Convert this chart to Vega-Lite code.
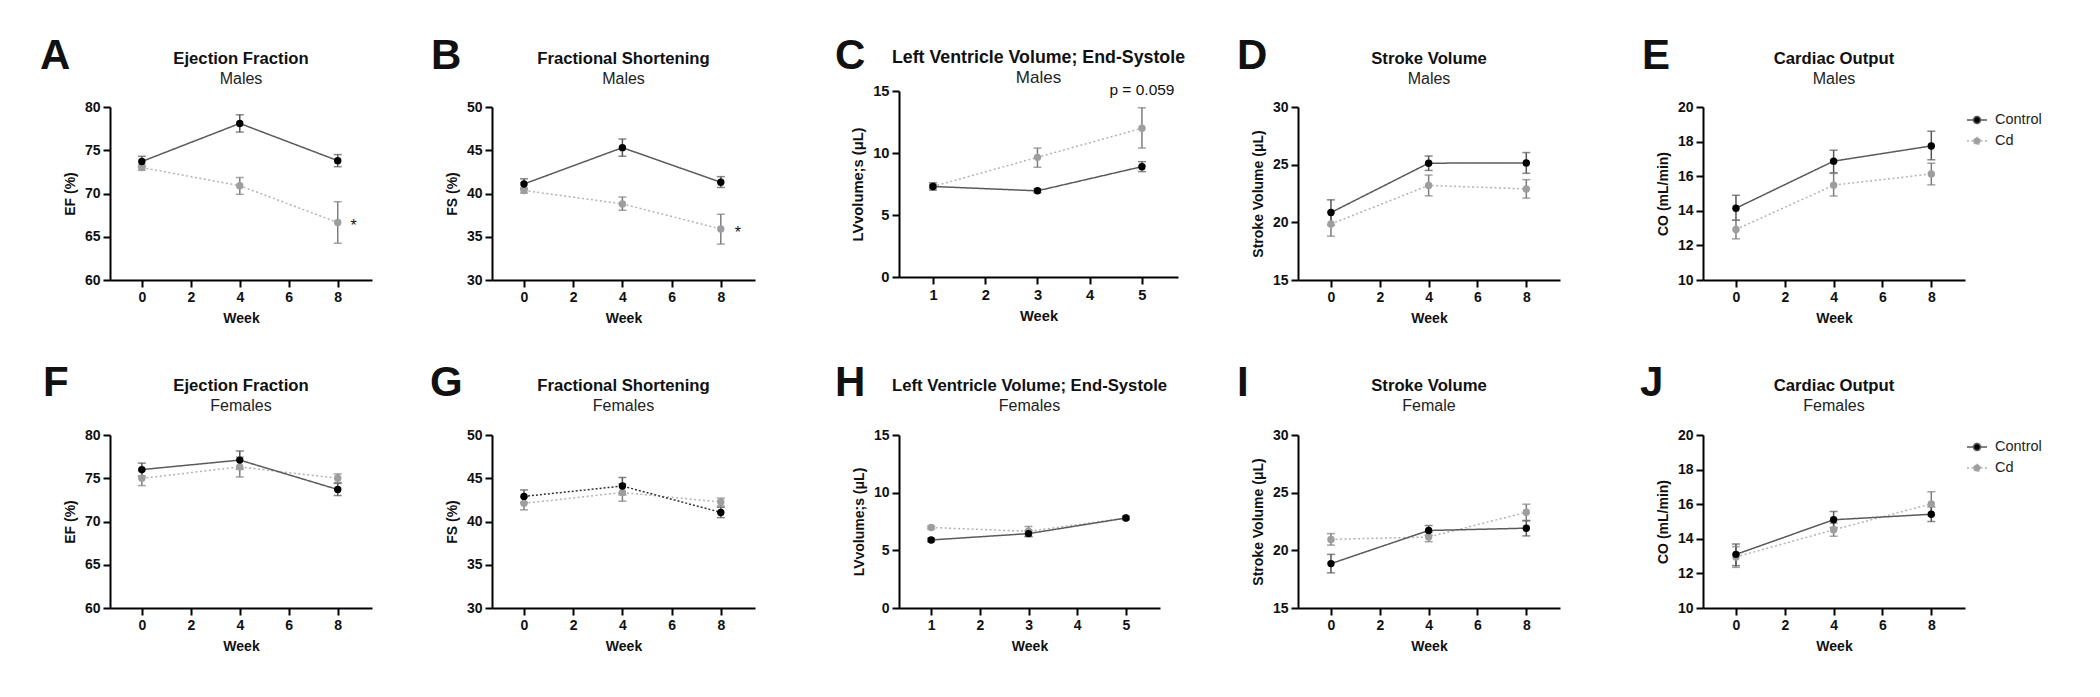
{
  "$schema": "https://vega.github.io/schema/vega-lite/v6.json",
  "background": "white",
  "padding": {"left": 40, "top": 35, "right": 5, "bottom": 5},
  "config": {
    "view": {"stroke": null},
    "font": "Liberation Sans",
    "axis": {"domainColor": "#000", "domainWidth": 2, "tickColor": "#000", "tickWidth": 2, "tickSize": 7, "labelFont": "Liberation Sans", "labelFontSize": 14, "labelFontWeight": "bold", "labelColor": "#111", "titleFont": "Liberation Sans", "titleFontSize": 14, "titleFontWeight": "bold", "titleColor": "#111", "grid": false, "labelPadding": 3, "labelFlush": false, "labelOverlap": false},
    "axisX": {"titlePadding": 7},
    "axisY": {"titlePadding": 7},
    "title": {"font": "Liberation Sans", "fontSize": 16.7, "fontWeight": "bold", "color": "#111", "subtitleFont": "Liberation Sans", "subtitleFontSize": 16, "subtitleColor": "#222", "subtitlePadding": 3, "anchor": "middle", "frame": "group"}
  },
  "resolve": {
    "scale": {"color": "independent", "fill": "independent", "stroke": "independent", "strokeDash": "independent"},
    "legend": {"color": "independent", "fill": "independent", "stroke": "independent", "strokeDash": "independent"}
  },
  "datasets": {
    "echo": [
      {"p": "A", "g": "Cd", "week": 0, "mean": 73.0, "lo": 72.7, "hi": 73.3},
      {"p": "A", "g": "Cd", "week": 4, "mean": 70.9, "lo": 69.9, "hi": 71.85},
      {"p": "A", "g": "Cd", "week": 8, "mean": 66.65, "lo": 64.25, "hi": 69.05},
      {"p": "A", "g": "Control", "week": 0, "mean": 73.7, "lo": 73.1, "hi": 74.3},
      {"p": "A", "g": "Control", "week": 4, "mean": 78.1, "lo": 77.1, "hi": 79.1},
      {"p": "A", "g": "Control", "week": 8, "mean": 73.8, "lo": 73.1, "hi": 74.5},
      {"p": "B", "g": "Cd", "week": 0, "mean": 40.35, "lo": 40.05, "hi": 40.65},
      {"p": "B", "g": "Cd", "week": 4, "mean": 38.8, "lo": 38.05, "hi": 39.6},
      {"p": "B", "g": "Cd", "week": 8, "mean": 35.9, "lo": 34.15, "hi": 37.6},
      {"p": "B", "g": "Control", "week": 0, "mean": 41.1, "lo": 40.5, "hi": 41.7},
      {"p": "B", "g": "Control", "week": 4, "mean": 45.3, "lo": 44.3, "hi": 46.3},
      {"p": "B", "g": "Control", "week": 8, "mean": 41.3, "lo": 40.7, "hi": 41.95},
      {"p": "C", "g": "Cd", "week": 1, "mean": 7.3, "lo": 7.15, "hi": 7.45},
      {"p": "C", "g": "Cd", "week": 3, "mean": 9.65, "lo": 8.85, "hi": 10.4},
      {"p": "C", "g": "Cd", "week": 5, "mean": 12.0, "lo": 10.4, "hi": 13.65},
      {"p": "C", "g": "Control", "week": 1, "mean": 7.3, "lo": 7.0, "hi": 7.6},
      {"p": "C", "g": "Control", "week": 3, "mean": 6.95, "lo": 6.8, "hi": 7.1},
      {"p": "C", "g": "Control", "week": 5, "mean": 8.9, "lo": 8.5, "hi": 9.3},
      {"p": "D", "g": "Cd", "week": 0, "mean": 19.85, "lo": 18.8, "hi": 20.9},
      {"p": "D", "g": "Cd", "week": 4, "mean": 23.2, "lo": 22.3, "hi": 24.1},
      {"p": "D", "g": "Cd", "week": 8, "mean": 22.9, "lo": 22.1, "hi": 23.7},
      {"p": "D", "g": "Control", "week": 0, "mean": 20.85, "lo": 19.75, "hi": 21.95},
      {"p": "D", "g": "Control", "week": 4, "mean": 25.13, "lo": 24.5, "hi": 25.75},
      {"p": "D", "g": "Control", "week": 8, "mean": 25.15, "lo": 24.25, "hi": 26.05},
      {"p": "E", "g": "Cd", "week": 0, "mean": 12.92, "lo": 12.38, "hi": 13.46},
      {"p": "E", "g": "Cd", "week": 4, "mean": 15.48, "lo": 14.85, "hi": 16.15},
      {"p": "E", "g": "Cd", "week": 8, "mean": 16.13, "lo": 15.5, "hi": 16.75},
      {"p": "E", "g": "Control", "week": 0, "mean": 14.15, "lo": 13.45, "hi": 14.9},
      {"p": "E", "g": "Control", "week": 4, "mean": 16.87, "lo": 16.2, "hi": 17.5},
      {"p": "E", "g": "Control", "week": 8, "mean": 17.75, "lo": 16.95, "hi": 18.6},
      {"p": "F", "g": "Cd", "week": 0, "mean": 75.0, "lo": 74.15, "hi": 75.85},
      {"p": "F", "g": "Cd", "week": 4, "mean": 76.3, "lo": 75.15, "hi": 77.45},
      {"p": "F", "g": "Cd", "week": 8, "mean": 75.0, "lo": 74.5, "hi": 75.5},
      {"p": "F", "g": "Control", "week": 0, "mean": 76.0, "lo": 75.25, "hi": 76.75},
      {"p": "F", "g": "Control", "week": 4, "mean": 77.1, "lo": 76.05, "hi": 78.15},
      {"p": "F", "g": "Control", "week": 8, "mean": 73.7, "lo": 73.0, "hi": 74.4},
      {"p": "G", "g": "Cd", "week": 0, "mean": 42.1, "lo": 41.35, "hi": 42.85},
      {"p": "G", "g": "Cd", "week": 4, "mean": 43.35, "lo": 42.35, "hi": 44.35},
      {"p": "G", "g": "Cd", "week": 8, "mean": 42.25, "lo": 41.8, "hi": 42.7},
      {"p": "G", "g": "Control", "week": 0, "mean": 42.9, "lo": 42.2, "hi": 43.65},
      {"p": "G", "g": "Control", "week": 4, "mean": 44.1, "lo": 43.1, "hi": 45.1},
      {"p": "G", "g": "Control", "week": 8, "mean": 41.05, "lo": 40.45, "hi": 41.65},
      {"p": "H", "g": "Cd", "week": 1, "mean": 6.98, "lo": 6.85, "hi": 7.1},
      {"p": "H", "g": "Cd", "week": 3, "mean": 6.65, "lo": 6.2, "hi": 7.07},
      {"p": "H", "g": "Cd", "week": 5, "mean": 7.8, "lo": 7.7, "hi": 7.9},
      {"p": "H", "g": "Control", "week": 1, "mean": 5.9, "lo": 5.75, "hi": 6.05},
      {"p": "H", "g": "Control", "week": 3, "mean": 6.45, "lo": 6.2, "hi": 6.7},
      {"p": "H", "g": "Control", "week": 5, "mean": 7.8, "lo": 7.65, "hi": 7.95},
      {"p": "I", "g": "Cd", "week": 0, "mean": 20.95, "lo": 20.45, "hi": 21.45},
      {"p": "I", "g": "Cd", "week": 4, "mean": 21.15, "lo": 20.75, "hi": 21.55},
      {"p": "I", "g": "Cd", "week": 8, "mean": 23.3, "lo": 22.6, "hi": 24.0},
      {"p": "I", "g": "Control", "week": 0, "mean": 18.85, "lo": 18.05, "hi": 19.65},
      {"p": "I", "g": "Control", "week": 4, "mean": 21.72, "lo": 21.3, "hi": 22.15},
      {"p": "I", "g": "Control", "week": 8, "mean": 21.92, "lo": 21.25, "hi": 22.55},
      {"p": "J", "g": "Cd", "week": 0, "mean": 12.95, "lo": 12.35, "hi": 13.55},
      {"p": "J", "g": "Cd", "week": 4, "mean": 14.52, "lo": 14.15, "hi": 14.9},
      {"p": "J", "g": "Cd", "week": 8, "mean": 16.02, "lo": 15.35, "hi": 16.72},
      {"p": "J", "g": "Control", "week": 0, "mean": 13.1, "lo": 12.45, "hi": 13.7},
      {"p": "J", "g": "Control", "week": 4, "mean": 15.1, "lo": 14.65, "hi": 15.58},
      {"p": "J", "g": "Control", "week": 8, "mean": 15.42, "lo": 15.0, "hi": 15.85}
    ],
    "notes": [
      {"p": "A", "week": 8, "val": 66.65, "label": "*"},
      {"p": "B", "week": 8, "val": 35.9, "label": "*"},
      {"p": "C", "week": 5, "val": 15, "label": "p = 0.059"}
    ]
  },
  "columns": 10,
  "spacing": {"row": 155, "column": 0},
  "bounds": "flush",
  "align": "each",
  "concat": [
    {"width": 70, "height": 10, "data": {"values": []}, "mark": "point", "title": {"text": "A", "fontSize": 42, "anchor": "start", "dx": 0, "offset": 13}},
    {
      "width": 262, "height": 189,
      "title": {"text": "Ejection Fraction", "subtitle": "Males", "offset": 4},
      "data": {"name": "echo"},
      "transform": [{"filter": "datum.p === 'A'"}],
      "encoding": {
        "x": {"field": "week", "type": "quantitative", "title": "Week", "scale": {"domain": [-1.3, 9.4], "nice": false, "zero": false}, "axis": {"values": [0, 2, 4, 6, 8]}},
        "y": {"field": "mean", "type": "quantitative", "title": "EF (%)", "scale": {"domain": [60, 80], "range": [189, 16], "nice": false, "zero": false}, "axis": {"values": [60, 65, 70, 75, 80]}}
      },
      "layer": [
        {"mark": {"type": "rule", "strokeWidth": 1.5}, "encoding": {"y": {"field": "lo", "type": "quantitative", "title": "EF (%)"}, "y2": {"field": "hi"}, "color": {"field": "g", "type": "nominal", "scale": {"domain": ["Control", "Cd"], "range": ["#555555", "#7d7d7d"]}, "legend": null}}},
        {"mark": {"type": "tick", "orient": "horizontal", "size": 8, "thickness": 1.5}, "encoding": {"y": {"field": "lo", "type": "quantitative", "title": "EF (%)"}, "color": {"field": "g", "type": "nominal", "legend": null}}},
        {"mark": {"type": "tick", "orient": "horizontal", "size": 8, "thickness": 1.5}, "encoding": {"y": {"field": "hi", "type": "quantitative", "title": "EF (%)"}, "color": {"field": "g", "type": "nominal", "legend": null}}},
        {"mark": {"type": "line", "strokeWidth": 1.5}, "encoding": {"stroke": {"field": "g", "type": "nominal", "scale": {"domain": ["Control", "Cd"], "range": ["#5a5a5a", "#b3b3b3"]}, "legend": null}, "strokeDash": {"field": "g", "type": "nominal", "scale": {"domain": ["Control", "Cd"], "range": [[1, 0], [2, 2.5]]}, "legend": null}}},
        {"mark": {"type": "circle", "size": 55, "opacity": 1}, "encoding": {"fill": {"field": "g", "type": "nominal", "scale": {"domain": ["Control", "Cd"], "range": ["#000000", "#9e9e9e"]}, "legend": null}}},
        {"data": {"name": "notes"}, "transform": [{"filter": "datum.p === 'A'"}], "mark": {"type": "text", "fontSize": 16, "dx": 16, "dy": 4, "color": "#111"}, "encoding": {"y": {"field": "val", "type": "quantitative", "title": "EF (%)"}, "text": {"field": "label"}}}
      ]
    },
    {"width": 120, "height": 10, "data": {"values": []}, "mark": "point", "title": {"text": "B", "fontSize": 42, "anchor": "start", "dx": 59, "offset": 13}},
    {
      "width": 263, "height": 189,
      "title": {"text": "Fractional Shortening", "subtitle": "Males", "offset": 4},
      "data": {"name": "echo"},
      "transform": [{"filter": "datum.p === 'B'"}],
      "encoding": {
        "x": {"field": "week", "type": "quantitative", "title": "Week", "scale": {"domain": [-1.3, 9.39], "nice": false, "zero": false}, "axis": {"values": [0, 2, 4, 6, 8]}},
        "y": {"field": "mean", "type": "quantitative", "title": "FS (%)", "scale": {"domain": [30, 50], "range": [189, 16], "nice": false, "zero": false}, "axis": {"values": [30, 35, 40, 45, 50]}}
      },
      "layer": [
        {"mark": {"type": "rule", "strokeWidth": 1.5}, "encoding": {"y": {"field": "lo", "type": "quantitative", "title": "FS (%)"}, "y2": {"field": "hi"}, "color": {"field": "g", "type": "nominal", "scale": {"domain": ["Control", "Cd"], "range": ["#555555", "#7d7d7d"]}, "legend": null}}},
        {"mark": {"type": "tick", "orient": "horizontal", "size": 8, "thickness": 1.5}, "encoding": {"y": {"field": "lo", "type": "quantitative", "title": "FS (%)"}, "color": {"field": "g", "type": "nominal", "legend": null}}},
        {"mark": {"type": "tick", "orient": "horizontal", "size": 8, "thickness": 1.5}, "encoding": {"y": {"field": "hi", "type": "quantitative", "title": "FS (%)"}, "color": {"field": "g", "type": "nominal", "legend": null}}},
        {"mark": {"type": "line", "strokeWidth": 1.5}, "encoding": {"stroke": {"field": "g", "type": "nominal", "scale": {"domain": ["Control", "Cd"], "range": ["#5a5a5a", "#b3b3b3"]}, "legend": null}, "strokeDash": {"field": "g", "type": "nominal", "scale": {"domain": ["Control", "Cd"], "range": [[1, 0], [2, 2.5]]}, "legend": null}}},
        {"mark": {"type": "circle", "size": 55, "opacity": 1}, "encoding": {"fill": {"field": "g", "type": "nominal", "scale": {"domain": ["Control", "Cd"], "range": ["#000000", "#9e9e9e"]}, "legend": null}}},
        {"data": {"name": "notes"}, "transform": [{"filter": "datum.p === 'B'"}], "mark": {"type": "text", "fontSize": 16, "dx": 17, "dy": 4, "color": "#111"}, "encoding": {"y": {"field": "val", "type": "quantitative", "title": "FS (%)"}, "text": {"field": "label"}}}
      ]
    },
    {"width": 144, "height": 10, "data": {"values": []}, "mark": "point", "title": {"text": "C", "fontSize": 42, "anchor": "start", "dx": 80, "offset": 13}},
    {
      "width": 279, "height": 186,
      "title": {"text": "Left Ventricle Volume; End-Systole", "subtitle": "Males", "offset": -3, "fontSize": 17.8, "subtitleFontSize": 17},
      "data": {"name": "echo"},
      "transform": [{"filter": "datum.p === 'C'"}],
      "encoding": {
        "x": {"field": "week", "type": "quantitative", "title": "Week", "scale": {"domain": [0.35, 5.69], "nice": false, "zero": false}, "axis": {"values": [1, 2, 3, 4, 5], "labelFontSize": 14.7, "titleFontSize": 14.7}},
        "y": {"field": "mean", "type": "quantitative", "title": "LVvolume;s (μL)", "scale": {"domain": [0, 15], "nice": false, "zero": false}, "axis": {"values": [0, 5, 10, 15], "labelFontSize": 14.7, "titleFontSize": 14.7}}
      },
      "layer": [
        {"mark": {"type": "rule", "strokeWidth": 1.5}, "encoding": {"y": {"field": "lo", "type": "quantitative", "title": "LVvolume;s (μL)"}, "y2": {"field": "hi"}, "color": {"field": "g", "type": "nominal", "scale": {"domain": ["Control", "Cd"], "range": ["#555555", "#7d7d7d"]}, "legend": null}}},
        {"mark": {"type": "tick", "orient": "horizontal", "size": 8, "thickness": 1.5}, "encoding": {"y": {"field": "lo", "type": "quantitative", "title": "LVvolume;s (μL)"}, "color": {"field": "g", "type": "nominal", "legend": null}}},
        {"mark": {"type": "tick", "orient": "horizontal", "size": 8, "thickness": 1.5}, "encoding": {"y": {"field": "hi", "type": "quantitative", "title": "LVvolume;s (μL)"}, "color": {"field": "g", "type": "nominal", "legend": null}}},
        {"mark": {"type": "line", "strokeWidth": 1.5}, "encoding": {"stroke": {"field": "g", "type": "nominal", "scale": {"domain": ["Control", "Cd"], "range": ["#5a5a5a", "#b3b3b3"]}, "legend": null}, "strokeDash": {"field": "g", "type": "nominal", "scale": {"domain": ["Control", "Cd"], "range": [[1, 0], [2, 2.5]]}, "legend": null}}},
        {"mark": {"type": "circle", "size": 55, "opacity": 1}, "encoding": {"fill": {"field": "g", "type": "nominal", "scale": {"domain": ["Control", "Cd"], "range": ["#000000", "#9e9e9e"]}, "legend": null}}},
        {"data": {"name": "notes"}, "transform": [{"filter": "datum.p === 'C'"}], "mark": {"type": "text", "fontSize": 15.5, "baseline": "middle", "dy": -1, "color": "#111"}, "encoding": {"y": {"field": "val", "type": "quantitative", "title": "LVvolume;s (μL)"}, "text": {"field": "label"}}}
      ]
    },
    {"width": 120, "height": 10, "data": {"values": []}, "mark": "point", "title": {"text": "D", "fontSize": 42, "anchor": "start", "dx": 59, "offset": 13}},
    {
      "width": 262, "height": 189,
      "title": {"text": "Stroke Volume", "subtitle": "Males", "offset": 4},
      "data": {"name": "echo"},
      "transform": [{"filter": "datum.p === 'D'"}],
      "encoding": {
        "x": {"field": "week", "type": "quantitative", "title": "Week", "scale": {"domain": [-1.35, 9.38], "nice": false, "zero": false}, "axis": {"values": [0, 2, 4, 6, 8]}},
        "y": {"field": "mean", "type": "quantitative", "title": "Stroke Volume (μL)", "scale": {"domain": [15, 30], "range": [189, 16], "nice": false, "zero": false}, "axis": {"values": [15, 20, 25, 30]}}
      },
      "layer": [
        {"mark": {"type": "rule", "strokeWidth": 1.5}, "encoding": {"y": {"field": "lo", "type": "quantitative", "title": "Stroke Volume (μL)"}, "y2": {"field": "hi"}, "color": {"field": "g", "type": "nominal", "scale": {"domain": ["Control", "Cd"], "range": ["#555555", "#7d7d7d"]}, "legend": null}}},
        {"mark": {"type": "tick", "orient": "horizontal", "size": 8, "thickness": 1.5}, "encoding": {"y": {"field": "lo", "type": "quantitative", "title": "Stroke Volume (μL)"}, "color": {"field": "g", "type": "nominal", "legend": null}}},
        {"mark": {"type": "tick", "orient": "horizontal", "size": 8, "thickness": 1.5}, "encoding": {"y": {"field": "hi", "type": "quantitative", "title": "Stroke Volume (μL)"}, "color": {"field": "g", "type": "nominal", "legend": null}}},
        {"mark": {"type": "line", "strokeWidth": 1.5}, "encoding": {"stroke": {"field": "g", "type": "nominal", "scale": {"domain": ["Control", "Cd"], "range": ["#5a5a5a", "#b3b3b3"]}, "legend": null}, "strokeDash": {"field": "g", "type": "nominal", "scale": {"domain": ["Control", "Cd"], "range": [[1, 0], [2, 2.5]]}, "legend": null}}},
        {"mark": {"type": "circle", "size": 55, "opacity": 1}, "encoding": {"fill": {"field": "g", "type": "nominal", "scale": {"domain": ["Control", "Cd"], "range": ["#000000", "#9e9e9e"]}, "legend": null}}}
      ]
    },
    {"width": 143, "height": 10, "data": {"values": []}, "mark": "point", "title": {"text": "E", "fontSize": 42, "anchor": "start", "dx": 82, "offset": 13}},
    {
      "width": 262, "height": 189,
      "title": {"text": "Cardiac Output", "subtitle": "Males", "offset": 4},
      "data": {"name": "echo"},
      "transform": [{"filter": "datum.p === 'E'"}],
      "encoding": {
        "x": {"field": "week", "type": "quantitative", "title": "Week", "scale": {"domain": [-1.35, 9.38], "nice": false, "zero": false}, "axis": {"values": [0, 2, 4, 6, 8]}},
        "y": {"field": "mean", "type": "quantitative", "title": "CO (mL/min)", "scale": {"domain": [10, 20], "range": [189, 16], "nice": false, "zero": false}, "axis": {"values": [10, 12, 14, 16, 18, 20]}}
      },
      "layer": [
        {"mark": {"type": "rule", "strokeWidth": 1.5}, "encoding": {"y": {"field": "lo", "type": "quantitative", "title": "CO (mL/min)"}, "y2": {"field": "hi"}, "color": {"field": "g", "type": "nominal", "scale": {"domain": ["Cd", "Control"], "range": ["#7d7d7d", "#555555"]}, "legend": null}}},
        {"mark": {"type": "tick", "orient": "horizontal", "size": 8, "thickness": 1.5}, "encoding": {"y": {"field": "lo", "type": "quantitative", "title": "CO (mL/min)"}, "color": {"field": "g", "type": "nominal", "legend": null}}},
        {"mark": {"type": "tick", "orient": "horizontal", "size": 8, "thickness": 1.5}, "encoding": {"y": {"field": "hi", "type": "quantitative", "title": "CO (mL/min)"}, "color": {"field": "g", "type": "nominal", "legend": null}}},
        {"mark": {"type": "line", "strokeWidth": 1.5}, "encoding": {"stroke": {"field": "g", "type": "nominal", "scale": {"domain": ["Control", "Cd"], "range": ["#5a5a5a", "#b3b3b3"]}, "legend": {"title": null, "orient": "right", "offset": -17, "padding": 18, "symbolType": "M-1,0L-0.35,0M0.35,0L1,0M-0.35,0A0.35,0.35,0,1,1,0.35,0A0.35,0.35,0,1,1,-0.35,0Z", "symbolSize": 400, "symbolStrokeWidth": 1.5, "labelFontSize": 14.5, "labelFont": "Liberation Sans", "labelColor": "#222", "labelOffset": 7, "rowPadding": 3}}, "strokeDash": {"field": "g", "type": "nominal", "scale": {"domain": ["Control", "Cd"], "range": [[1, 0], [2, 2.5]]}, "legend": {"title": null, "orient": "right", "offset": -17, "padding": 18, "symbolType": "M-1,0L-0.35,0M0.35,0L1,0M-0.35,0A0.35,0.35,0,1,1,0.35,0A0.35,0.35,0,1,1,-0.35,0Z", "symbolSize": 400, "symbolStrokeWidth": 1.5, "labelFontSize": 14.5, "labelFont": "Liberation Sans", "labelColor": "#222", "labelOffset": 7, "rowPadding": 3}}}},
        {"mark": {"type": "circle", "size": 55, "opacity": 1}, "encoding": {"fill": {"field": "g", "type": "nominal", "scale": {"domain": ["Control", "Cd"], "range": ["#000000", "#9e9e9e"]}, "legend": {"title": null, "orient": "right", "offset": -17, "padding": 18, "symbolType": "M-1,0L-0.35,0M0.35,0L1,0M-0.35,0A0.35,0.35,0,1,1,0.35,0A0.35,0.35,0,1,1,-0.35,0Z", "symbolSize": 400, "symbolStrokeWidth": 1.5, "labelFontSize": 14.5, "labelFont": "Liberation Sans", "labelColor": "#222", "labelOffset": 7, "rowPadding": 3}}}}
      ]
    },
    {"width": 70, "height": 10, "data": {"values": []}, "mark": "point", "title": {"text": "F", "fontSize": 42, "anchor": "start", "dx": 3, "offset": 30}},
    {
      "width": 262, "height": 173,
      "title": {"text": "Ejection Fraction", "subtitle": "Females", "offset": 14},
      "data": {"name": "echo"},
      "transform": [{"filter": "datum.p === 'F'"}],
      "encoding": {
        "x": {"field": "week", "type": "quantitative", "title": "Week", "scale": {"domain": [-1.3, 9.4], "nice": false, "zero": false}, "axis": {"values": [0, 2, 4, 6, 8]}},
        "y": {"field": "mean", "type": "quantitative", "title": "EF (%)", "scale": {"domain": [60, 80], "nice": false, "zero": false}, "axis": {"values": [60, 65, 70, 75, 80]}}
      },
      "layer": [
        {"mark": {"type": "rule", "strokeWidth": 1.5}, "encoding": {"y": {"field": "lo", "type": "quantitative", "title": "EF (%)"}, "y2": {"field": "hi"}, "color": {"field": "g", "type": "nominal", "scale": {"domain": ["Control", "Cd"], "range": ["#555555", "#7d7d7d"]}, "legend": null}}},
        {"mark": {"type": "tick", "orient": "horizontal", "size": 8, "thickness": 1.5}, "encoding": {"y": {"field": "lo", "type": "quantitative", "title": "EF (%)"}, "color": {"field": "g", "type": "nominal", "legend": null}}},
        {"mark": {"type": "tick", "orient": "horizontal", "size": 8, "thickness": 1.5}, "encoding": {"y": {"field": "hi", "type": "quantitative", "title": "EF (%)"}, "color": {"field": "g", "type": "nominal", "legend": null}}},
        {"mark": {"type": "line", "strokeWidth": 1.5}, "encoding": {"stroke": {"field": "g", "type": "nominal", "scale": {"domain": ["Control", "Cd"], "range": ["#5a5a5a", "#b3b3b3"]}, "legend": null}, "strokeDash": {"field": "g", "type": "nominal", "scale": {"domain": ["Control", "Cd"], "range": [[1, 0], [2, 2.5]]}, "legend": null}}},
        {"mark": {"type": "circle", "size": 55, "opacity": 1}, "encoding": {"fill": {"field": "g", "type": "nominal", "scale": {"domain": ["Control", "Cd"], "range": ["#000000", "#9e9e9e"]}, "legend": null}}}
      ]
    },
    {"width": 120, "height": 10, "data": {"values": []}, "mark": "point", "title": {"text": "G", "fontSize": 42, "anchor": "start", "dx": 58, "offset": 30}},
    {
      "width": 263, "height": 173,
      "title": {"text": "Fractional Shortening", "subtitle": "Females", "offset": 14},
      "data": {"name": "echo"},
      "transform": [{"filter": "datum.p === 'G'"}],
      "encoding": {
        "x": {"field": "week", "type": "quantitative", "title": "Week", "scale": {"domain": [-1.3, 9.39], "nice": false, "zero": false}, "axis": {"values": [0, 2, 4, 6, 8]}},
        "y": {"field": "mean", "type": "quantitative", "title": "FS (%)", "scale": {"domain": [30, 50], "nice": false, "zero": false}, "axis": {"values": [30, 35, 40, 45, 50]}}
      },
      "layer": [
        {"mark": {"type": "rule", "strokeWidth": 1.5}, "encoding": {"y": {"field": "lo", "type": "quantitative", "title": "FS (%)"}, "y2": {"field": "hi"}, "color": {"field": "g", "type": "nominal", "scale": {"domain": ["Control", "Cd"], "range": ["#555555", "#7d7d7d"]}, "legend": null}}},
        {"mark": {"type": "tick", "orient": "horizontal", "size": 8, "thickness": 1.5}, "encoding": {"y": {"field": "lo", "type": "quantitative", "title": "FS (%)"}, "color": {"field": "g", "type": "nominal", "legend": null}}},
        {"mark": {"type": "tick", "orient": "horizontal", "size": 8, "thickness": 1.5}, "encoding": {"y": {"field": "hi", "type": "quantitative", "title": "FS (%)"}, "color": {"field": "g", "type": "nominal", "legend": null}}},
        {"mark": {"type": "line", "strokeWidth": 1.5}, "encoding": {"stroke": {"field": "g", "type": "nominal", "scale": {"domain": ["Control", "Cd"], "range": ["#333333", "#b3b3b3"]}, "legend": null}, "strokeDash": {"field": "g", "type": "nominal", "scale": {"domain": ["Control", "Cd"], "range": [[2, 2], [2, 2.5]]}, "legend": null}}},
        {"mark": {"type": "circle", "size": 55, "opacity": 1}, "encoding": {"fill": {"field": "g", "type": "nominal", "scale": {"domain": ["Control", "Cd"], "range": ["#000000", "#9e9e9e"]}, "legend": null}}}
      ]
    },
    {"width": 144, "height": 10, "data": {"values": []}, "mark": "point", "title": {"text": "H", "fontSize": 42, "anchor": "start", "dx": 80, "offset": 30}},
    {
      "width": 261, "height": 173,
      "title": {"text": "Left Ventricle Volume; End-Systole", "subtitle": "Females", "offset": 14},
      "data": {"name": "echo"},
      "transform": [{"filter": "datum.p === 'H'"}],
      "encoding": {
        "x": {"field": "week", "type": "quantitative", "title": "Week", "scale": {"domain": [0.34, 5.7], "nice": false, "zero": false}, "axis": {"values": [1, 2, 3, 4, 5]}},
        "y": {"field": "mean", "type": "quantitative", "title": "LVvolume;s (μL)", "scale": {"domain": [0, 15], "nice": false, "zero": false}, "axis": {"values": [0, 5, 10, 15]}}
      },
      "layer": [
        {"mark": {"type": "rule", "strokeWidth": 1.5}, "encoding": {"y": {"field": "lo", "type": "quantitative", "title": "LVvolume;s (μL)"}, "y2": {"field": "hi"}, "color": {"field": "g", "type": "nominal", "scale": {"domain": ["Control", "Cd"], "range": ["#555555", "#7d7d7d"]}, "legend": null}}},
        {"mark": {"type": "tick", "orient": "horizontal", "size": 8, "thickness": 1.5}, "encoding": {"y": {"field": "lo", "type": "quantitative", "title": "LVvolume;s (μL)"}, "color": {"field": "g", "type": "nominal", "legend": null}}},
        {"mark": {"type": "tick", "orient": "horizontal", "size": 8, "thickness": 1.5}, "encoding": {"y": {"field": "hi", "type": "quantitative", "title": "LVvolume;s (μL)"}, "color": {"field": "g", "type": "nominal", "legend": null}}},
        {"mark": {"type": "line", "strokeWidth": 1.5}, "encoding": {"stroke": {"field": "g", "type": "nominal", "scale": {"domain": ["Control", "Cd"], "range": ["#5a5a5a", "#b3b3b3"]}, "legend": null}, "strokeDash": {"field": "g", "type": "nominal", "scale": {"domain": ["Control", "Cd"], "range": [[1, 0], [2, 2.5]]}, "legend": null}}},
        {"mark": {"type": "circle", "size": 55, "opacity": 1}, "encoding": {"fill": {"field": "g", "type": "nominal", "scale": {"domain": ["Control", "Cd"], "range": ["#000000", "#9e9e9e"]}, "legend": null}}}
      ]
    },
    {"width": 120, "height": 10, "data": {"values": []}, "mark": "point", "title": {"text": "I", "fontSize": 42, "anchor": "start", "dx": 59, "offset": 30}},
    {
      "width": 262, "height": 173,
      "title": {"text": "Stroke Volume", "subtitle": "Female", "offset": 14},
      "data": {"name": "echo"},
      "transform": [{"filter": "datum.p === 'I'"}],
      "encoding": {
        "x": {"field": "week", "type": "quantitative", "title": "Week", "scale": {"domain": [-1.35, 9.38], "nice": false, "zero": false}, "axis": {"values": [0, 2, 4, 6, 8]}},
        "y": {"field": "mean", "type": "quantitative", "title": "Stroke Volume (μL)", "scale": {"domain": [15, 30], "nice": false, "zero": false}, "axis": {"values": [15, 20, 25, 30]}}
      },
      "layer": [
        {"mark": {"type": "rule", "strokeWidth": 1.5}, "encoding": {"y": {"field": "lo", "type": "quantitative", "title": "Stroke Volume (μL)"}, "y2": {"field": "hi"}, "color": {"field": "g", "type": "nominal", "scale": {"domain": ["Control", "Cd"], "range": ["#555555", "#7d7d7d"]}, "legend": null}}},
        {"mark": {"type": "tick", "orient": "horizontal", "size": 8, "thickness": 1.5}, "encoding": {"y": {"field": "lo", "type": "quantitative", "title": "Stroke Volume (μL)"}, "color": {"field": "g", "type": "nominal", "legend": null}}},
        {"mark": {"type": "tick", "orient": "horizontal", "size": 8, "thickness": 1.5}, "encoding": {"y": {"field": "hi", "type": "quantitative", "title": "Stroke Volume (μL)"}, "color": {"field": "g", "type": "nominal", "legend": null}}},
        {"mark": {"type": "line", "strokeWidth": 1.5}, "encoding": {"stroke": {"field": "g", "type": "nominal", "scale": {"domain": ["Control", "Cd"], "range": ["#5a5a5a", "#b3b3b3"]}, "legend": null}, "strokeDash": {"field": "g", "type": "nominal", "scale": {"domain": ["Control", "Cd"], "range": [[1, 0], [2, 2.5]]}, "legend": null}}},
        {"mark": {"type": "circle", "size": 55, "opacity": 1}, "encoding": {"fill": {"field": "g", "type": "nominal", "scale": {"domain": ["Control", "Cd"], "range": ["#000000", "#9e9e9e"]}, "legend": null}}}
      ]
    },
    {"width": 143, "height": 10, "data": {"values": []}, "mark": "point", "title": {"text": "J", "fontSize": 42, "anchor": "start", "dx": 80, "offset": 30}},
    {
      "width": 262, "height": 173,
      "title": {"text": "Cardiac Output", "subtitle": "Females", "offset": 14},
      "data": {"name": "echo"},
      "transform": [{"filter": "datum.p === 'J'"}],
      "encoding": {
        "x": {"field": "week", "type": "quantitative", "title": "Week", "scale": {"domain": [-1.35, 9.38], "nice": false, "zero": false}, "axis": {"values": [0, 2, 4, 6, 8]}},
        "y": {"field": "mean", "type": "quantitative", "title": "CO (mL/min)", "scale": {"domain": [10, 20], "nice": false, "zero": false}, "axis": {"values": [10, 12, 14, 16, 18, 20]}}
      },
      "layer": [
        {"mark": {"type": "rule", "strokeWidth": 1.5}, "encoding": {"y": {"field": "lo", "type": "quantitative", "title": "CO (mL/min)"}, "y2": {"field": "hi"}, "color": {"field": "g", "type": "nominal", "scale": {"domain": ["Cd", "Control"], "range": ["#7d7d7d", "#555555"]}, "legend": null}}},
        {"mark": {"type": "tick", "orient": "horizontal", "size": 8, "thickness": 1.5}, "encoding": {"y": {"field": "lo", "type": "quantitative", "title": "CO (mL/min)"}, "color": {"field": "g", "type": "nominal", "legend": null}}},
        {"mark": {"type": "tick", "orient": "horizontal", "size": 8, "thickness": 1.5}, "encoding": {"y": {"field": "hi", "type": "quantitative", "title": "CO (mL/min)"}, "color": {"field": "g", "type": "nominal", "legend": null}}},
        {"mark": {"type": "line", "strokeWidth": 1.5}, "encoding": {"stroke": {"field": "g", "type": "nominal", "scale": {"domain": ["Control", "Cd"], "range": ["#5a5a5a", "#b3b3b3"]}, "legend": {"title": null, "orient": "right", "offset": 0, "padding": 1, "symbolType": "M-1,0L-0.35,0M0.35,0L1,0M-0.35,0A0.35,0.35,0,1,1,0.35,0A0.35,0.35,0,1,1,-0.35,0Z", "symbolSize": 400, "symbolStrokeWidth": 1.5, "labelFontSize": 14.5, "labelFont": "Liberation Sans", "labelColor": "#222", "labelOffset": 7, "rowPadding": 3}}, "strokeDash": {"field": "g", "type": "nominal", "scale": {"domain": ["Control", "Cd"], "range": [[1, 0], [2, 2.5]]}, "legend": {"title": null, "orient": "right", "offset": 0, "padding": 1, "symbolType": "M-1,0L-0.35,0M0.35,0L1,0M-0.35,0A0.35,0.35,0,1,1,0.35,0A0.35,0.35,0,1,1,-0.35,0Z", "symbolSize": 400, "symbolStrokeWidth": 1.5, "labelFontSize": 14.5, "labelFont": "Liberation Sans", "labelColor": "#222", "labelOffset": 7, "rowPadding": 3}}}},
        {"mark": {"type": "circle", "size": 55, "opacity": 1}, "encoding": {"fill": {"field": "g", "type": "nominal", "scale": {"domain": ["Control", "Cd"], "range": ["#000000", "#9e9e9e"]}, "legend": {"title": null, "orient": "right", "offset": 0, "padding": 1, "symbolType": "M-1,0L-0.35,0M0.35,0L1,0M-0.35,0A0.35,0.35,0,1,1,0.35,0A0.35,0.35,0,1,1,-0.35,0Z", "symbolSize": 400, "symbolStrokeWidth": 1.5, "labelFontSize": 14.5, "labelFont": "Liberation Sans", "labelColor": "#222", "labelOffset": 7, "rowPadding": 3}}}}
      ]
    }
  ]
}
